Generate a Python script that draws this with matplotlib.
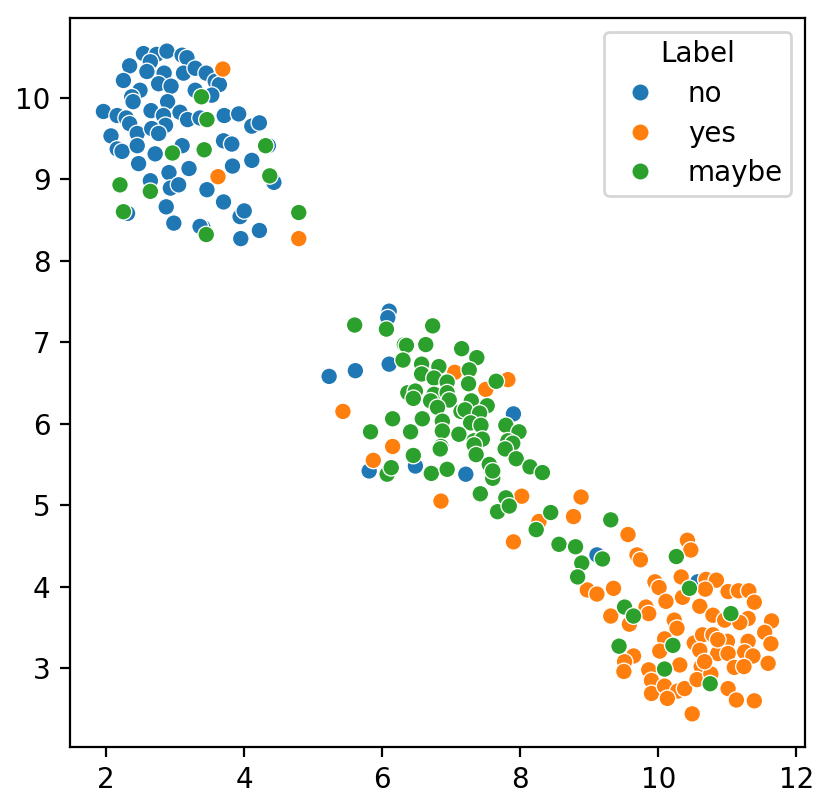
import matplotlib
matplotlib.use("Agg")
import matplotlib.pyplot as plt
from matplotlib.lines import Line2D
import pandas as pd
import seaborn as sns

# points, grouped by label
no_x = [2.54, 2.73, 2.88, 3.10, 3.17, 2.34, 2.64, 2.59, 2.84, 3.12, 3.29, 3.45,
        2.25, 2.76, 2.94, 3.58, 3.64, 3.29, 3.53, 2.49, 2.37, 2.39, 2.89, 1.96,
        2.16, 2.29, 2.34, 2.65, 2.83, 2.86, 3.07, 3.18, 3.36, 3.71, 3.92, 4.11,
        4.22, 2.07, 2.45, 2.66, 2.76, 2.16, 2.23, 2.45, 2.71, 3.10, 3.70, 3.82,
        4.35, 2.47, 2.91, 3.20, 3.83, 4.11, 4.43, 2.64, 2.93, 3.05, 3.46, 3.70,
        2.87, 2.31, 3.94, 4.00, 2.98, 3.40, 3.36, 3.95, 4.22,
        6.10, 6.08, 6.10, 5.23, 5.61, 7.90, 5.81, 6.48, 7.21,
        9.11, 10.57]
no_y = [10.54, 10.53, 10.57, 10.52, 10.49, 10.39, 10.44, 10.32, 10.30, 10.30, 10.36, 10.30,
        10.21, 10.17, 10.14, 10.20, 10.16, 10.09, 10.03, 10.09, 10.01, 9.95, 9.95, 9.83,
        9.78, 9.75, 9.68, 9.84, 9.78, 9.66, 9.82, 9.73, 9.75, 9.78, 9.80, 9.65,
        9.69, 9.53, 9.56, 9.62, 9.56, 9.37, 9.34, 9.41, 9.31, 9.41, 9.47, 9.43,
        9.41, 9.19, 9.08, 9.13, 9.16, 9.23, 8.96, 8.98, 8.89, 8.93, 8.87, 8.72,
        8.66, 8.58, 8.54, 8.61, 8.46, 8.41, 8.42, 8.27, 8.37,
        7.38, 7.30, 6.73, 6.58, 6.65, 6.12, 5.42, 5.48, 5.38,
        4.39, 4.06]

yes_x = [3.69, 3.62, 4.79,
         7.05, 7.82, 7.50, 5.43, 6.15, 5.87, 8.02, 6.85, 8.27, 7.90,
         8.88, 8.77, 9.56, 9.69, 9.74, 10.42, 10.47, 8.97, 9.11, 9.35, 9.95, 10.01,
         10.33, 10.69, 10.84, 10.68, 11.01, 11.16, 11.31, 10.11, 10.35, 11.39, 10.60,
         10.79, 11.30, 11.64, 9.82, 9.86, 9.31, 9.58, 10.23, 10.27, 10.96, 11.18,
         11.54, 11.63, 10.09, 10.52, 10.64, 10.79, 11.00, 11.30, 11.25, 11.37, 11.59,
         10.60, 10.86, 11.01, 9.64, 9.51, 9.50, 10.02, 10.31, 9.86, 9.90, 9.90,
         10.09, 10.28, 10.38, 10.13, 10.62, 10.56, 10.76, 11.01, 11.13, 11.39,
         10.49, 11.10, 11.24, 10.67, 10.86]
yes_y = [10.35, 9.03, 8.27,
         6.63, 6.54, 6.42, 6.15, 5.72, 5.55, 5.11, 5.05, 4.80, 4.55,
         5.10, 4.86, 4.64, 4.39, 4.33, 4.57, 4.45, 3.96, 3.91, 3.98, 4.06, 3.99,
         4.12, 4.09, 4.08, 3.97, 3.94, 3.95, 3.95, 3.82, 3.87, 3.81, 3.76,
         3.65, 3.61, 3.58, 3.75, 3.67, 3.64, 3.54, 3.59, 3.49, 3.59, 3.56,
         3.44, 3.30, 3.36, 3.31, 3.41, 3.41, 3.33, 3.33, 3.20, 3.15, 3.06,
         3.22, 3.18, 3.18, 3.15, 3.08, 2.96, 3.21, 3.04, 2.98, 2.85, 2.69,
         2.78, 2.72, 2.75, 2.63, 3.02, 2.86, 2.93, 2.75, 2.61, 2.60,
         2.44, 3.01, 3.02, 3.08, 3.35]

maybe_x = [3.38, 3.46, 2.96, 3.42, 4.31, 4.37, 2.20, 2.64, 2.25, 4.79, 3.45,
           5.60, 6.06, 6.73, 6.32, 6.35, 6.63, 7.15, 7.37, 6.30, 6.57, 6.82,
           7.26, 6.57, 6.75, 6.94, 7.25, 7.65, 6.37, 6.48, 6.75, 6.94, 6.45,
           6.70, 6.97, 7.29, 7.52, 6.80, 7.14, 7.20, 7.41, 6.15, 6.58, 6.87,
           7.28, 7.43, 7.79, 7.98, 5.83, 6.41, 6.87, 7.11, 7.33, 7.45, 7.82,
           7.89, 6.85, 7.33, 7.78, 6.84, 7.36, 7.94, 6.45, 6.07, 6.13, 6.71,
           6.94, 7.55, 7.60, 7.60, 8.14, 8.32, 7.42, 7.79, 7.67, 7.84, 8.44,
           8.23,
           9.31, 8.56, 8.80, 9.19, 8.89, 8.83, 10.26, 10.45, 11.05, 9.51, 9.64,
           10.21, 9.43, 10.09, 10.75]
maybe_y = [10.01, 9.73, 9.32, 9.36, 9.41, 9.04, 8.93, 8.85, 8.60, 8.59, 8.32,
           7.21, 7.16, 7.20, 6.97, 6.96, 6.97, 6.92, 6.81, 6.78, 6.73, 6.70,
           6.66, 6.61, 6.56, 6.51, 6.49, 6.52, 6.38, 6.40, 6.36, 6.38, 6.31,
           6.28, 6.29, 6.28, 6.22, 6.20, 6.15, 6.17, 6.13, 6.06, 6.06, 6.03,
           6.01, 5.98, 5.98, 5.90, 5.90, 5.90, 5.91, 5.87, 5.79, 5.81, 5.79,
           5.76, 5.72, 5.74, 5.69, 5.69, 5.62, 5.57, 5.61, 5.38, 5.46, 5.39,
           5.44, 5.50, 5.33, 5.42, 5.47, 5.40, 5.14, 5.09, 4.92, 4.99, 4.91,
           4.70,
           4.82, 4.52, 4.49, 4.34, 4.29, 4.12, 4.37, 3.98, 3.67, 3.75, 3.64,
           3.28, 3.27, 2.99, 2.81]

LABELS = ["no", "yes", "maybe"]
COLOURS = ["#1f77b4", "#ff7f0e", "#2ca02c"]

df = pd.concat([
    pd.DataFrame({"x": no_x, "y": no_y, "Label": "no"}),
    pd.DataFrame({"x": yes_x, "y": yes_y, "Label": "yes"}),
    pd.DataFrame({"x": maybe_x, "y": maybe_y, "Label": "maybe"}),
], ignore_index=True)

fig = plt.figure(figsize=(831 / 200, 810 / 200), dpi=200)
ax = fig.add_axes([70 / 831, 63 / 810, 735 / 831, 729 / 810])
sns.scatterplot(data=df, x="x", y="y", hue="Label", hue_order=LABELS,
                palette=COLOURS, ax=ax, legend=False)
ax.set_xlabel("")
ax.set_ylabel("")

# old-style seaborn legend: full-size markers with white edge
handles = [Line2D([], [], marker="o", ls="none", markersize=6.5,
                  markerfacecolor=c, markeredgecolor="white", markeredgewidth=0.75)
           for c in COLOURS]
ax.legend(handles, LABELS, title="Label", loc="upper right",
          labelspacing=0.42, borderpad=0.3, handletextpad=0.7)

fig.savefig("out.png", dpi=200)
